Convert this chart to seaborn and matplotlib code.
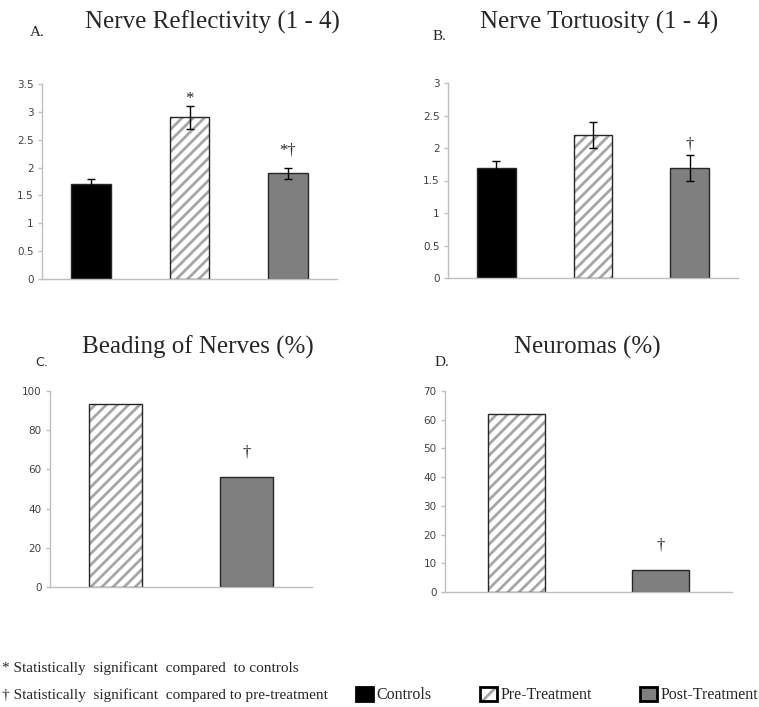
import numpy as np
import pandas as pd
import seaborn as sns
import matplotlib.pyplot as plt
from matplotlib.patches import Patch, Rectangle

# values
groups_abc = ['Controls', 'Pre-Treatment', 'Post-Treatment']
reflectivity = [1.7, 2.9, 1.9]
reflectivity_err = [0.1, 0.2, 0.1]
reflectivity_marks = ['', '*', '*\u2020']
tortuosity = [1.7, 2.2, 1.7]
tortuosity_err = [0.1, 0.2, 0.2]
tortuosity_marks = ['', '', '\u2020']

groups_cd = ['Pre-Treatment', 'Post-Treatment']
beading = [93.5, 56.0]
beading_marks = ['', '\u2020']
neuromas = [62.0, 7.5]
neuromas_marks = ['', '\u2020']

note_controls = '* Statistically  significant  compared  to controls'
note_pre = '\u2020 Statistically  significant  compared to pre-treatment'

W, H = 759, 707
bar_colors = {'Controls': '#000000', 'Pre-Treatment': '#ffffff', 'Post-Treatment': '#7f7f7f'}
HATCH_GRAY = '#a6a6a6'
EDGE = '#262626'
AXIS_GRAY = '#bfbfbf'

sns.set_style('white')
plt.rcParams['font.family'] = ['Liberation Serif', 'DejaVu Serif']
plt.rcParams['hatch.linewidth'] = 2.0


def px(x, y):
    return x / W, 1 - y / H


def draw_panel(ax, groups, values, errors, marks, ymax, step, pads):
    df = pd.DataFrame({'group': groups, 'value': values})
    sns.barplot(data=df, x='group', y='value', hue='group',
                palette={g: bar_colors[g] for g in groups}, width=0.4,
                edgecolor=EDGE, linewidth=1, legend=False, errorbar=None, ax=ax)
    bars = sorted(ax.patches, key=lambda p: p.get_x())
    for bar, g in zip(bars, groups):
        if g == 'Pre-Treatment':
            bar.set_facecolor('white')
            bar.set_hatch('///')
            bar.set_edgecolor(HATCH_GRAY)
            bar.set_linewidth(0)
            ax.add_patch(Rectangle((bar.get_x(), bar.get_y()), bar.get_width(), bar.get_height(),
                                   fill=False, edgecolor=EDGE, linewidth=1, zorder=bar.get_zorder() + 0.1))
    tops = list(values)
    if errors is not None:
        ax.errorbar(range(len(groups)), values, yerr=errors, fmt='none', ecolor='black',
                    elinewidth=1, capsize=3, capthick=1, zorder=5)
        tops = [v + e for v, e in zip(values, errors)]
    for i, (m, top, pad) in enumerate(zip(marks, tops, pads)):
        if m:
            ax.annotate(m, xy=(i, top), xytext=(0, pad * 0.72), textcoords='offset points',
                        ha='center', va='bottom', fontsize=12)
    ax.set_xlim(-0.5, len(groups) - 0.5)
    ax.set_ylim(0, ymax)
    ticks = np.arange(0, ymax + step / 2, step)
    ax.set_yticks(ticks)
    ax.set_yticklabels([f'{t:g}' for t in ticks])
    ax.set_xticks([])
    ax.set_xlabel('')
    ax.set_ylabel('')
    sns.despine(ax=ax)
    for s in ['left', 'bottom']:
        ax.spines[s].set_color(AXIS_GRAY)
        ax.spines[s].set_linewidth(1)
    ax.tick_params(axis='y', direction='out', length=3, width=1, color=AXIS_GRAY,
                   labelcolor='#404040', labelsize=7.5, pad=3, labelfontfamily='DejaVu Sans', left=True)


fig = plt.figure(figsize=(W / 100, H / 100), dpi=100)
ax_a = fig.add_axes([42 / W, 1 - 279 / H, 295 / W, 195 / H])
ax_b = fig.add_axes([448 / W, 1 - 278 / H, 290 / W, 195 / H])
ax_c = fig.add_axes([50 / W, 1 - 587 / H, 262 / W, 196 / H])
ax_d = fig.add_axes([445 / W, 1 - 592 / H, 287 / W, 201 / H])

draw_panel(ax_a, groups_abc, reflectivity, reflectivity_err, reflectivity_marks, 3.5, 0.5, [0, -1, 9])
draw_panel(ax_b, groups_abc, tortuosity, tortuosity_err, tortuosity_marks, 3, 0.5, [0, 0, 2.5])
draw_panel(ax_c, groups_cd, beading, None, beading_marks, 100, 20, [0, 17])
draw_panel(ax_d, groups_cd, neuromas, None, neuromas_marks, 70, 10, [0, 16.5])

# titles and panel letters
fig.text(*px(212, 22), 'Nerve Reflectivity (1 - 4)', ha='center', va='center', fontsize=18)
fig.text(*px(599, 22), 'Nerve Tortuosity (1 - 4)', ha='center', va='center', fontsize=18)
fig.text(*px(198, 347), 'Beading of Nerves (%)', ha='center', va='center', fontsize=18)
fig.text(*px(587, 347), 'Neuromas (%)', ha='center', va='center', fontsize=18)
fig.text(*px(30, 33), 'A.', ha='left', va='center', fontsize=11)
fig.text(*px(433, 37), 'B.', ha='left', va='center', fontsize=11)
fig.text(*px(35, 362), 'C.', ha='left', va='center', fontsize=9, family=['DejaVu Sans'])
fig.text(*px(435, 363), 'D.', ha='left', va='center', fontsize=11)

# footnotes
fig.text(*px(2, 668), note_controls, ha='left', va='center', fontsize=11)
fig.text(*px(2, 695), note_pre, ha='left', va='center', fontsize=11)

handles = [Patch(facecolor=bar_colors['Controls'], edgecolor='black', linewidth=2),
           (Patch(facecolor='white', edgecolor=HATCH_GRAY, hatch='//', linewidth=0),
            Patch(facecolor='none', edgecolor='black', linewidth=2)),
           Patch(facecolor=bar_colors['Post-Treatment'], edgecolor='black', linewidth=2)]
fig.legend(handles, groups_abc, loc='center left', bbox_to_anchor=px(356, 695), ncol=3,
           frameon=False, fontsize=11.5, handlelength=1.05, handleheight=1.05,
           handletextpad=0.25, columnspacing=3.0, borderpad=0, borderaxespad=0)

fig.savefig('out.png', dpi=100)
